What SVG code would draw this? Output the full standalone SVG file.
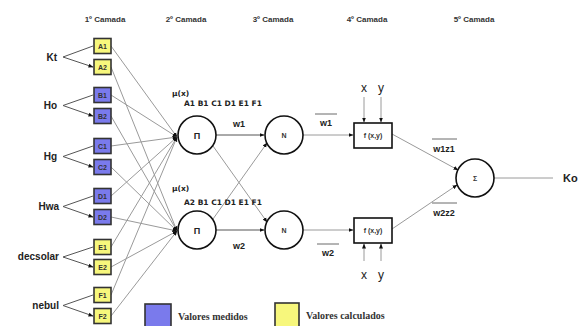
<svg xmlns="http://www.w3.org/2000/svg" width="579" height="326" viewBox="0 0 579 326">
<style>
.hdr{font-family:"Liberation Sans",Arial,sans-serif;font-size:8px;font-weight:bold;fill:#333;text-anchor:middle}
.lbl{font-family:"Liberation Sans",Arial,sans-serif;font-size:10px;font-weight:bold;fill:#222;text-anchor:end}
.bt{font-family:"Liberation Sans",Arial,sans-serif;font-size:7px;font-weight:bold;fill:#333;text-anchor:middle}
.sm{font-family:"DejaVu Sans",sans-serif;font-size:7.5px;font-weight:bold;fill:#222}
.w{font-family:"Liberation Sans",Arial,sans-serif;font-size:9px;font-weight:bold;fill:#222;text-anchor:middle}
.xy{font-family:"Liberation Sans",Arial,sans-serif;font-size:12px;fill:#222;text-anchor:middle}
.leg{font-family:"Liberation Serif","Times New Roman",serif;font-size:10px;font-weight:bold;fill:#333}
.yb{fill:#f7f77c;stroke:#333;stroke-width:1.6}
.bb{fill:#7a7aec;stroke:#333;stroke-width:1.6}
.c{fill:#fff;stroke:#111;stroke-width:1.6}
.ln{stroke:#9a9a9a;stroke-width:1;fill:none}
.dk{stroke:#555;stroke-width:1;fill:none}
.ol{stroke:#444;stroke-width:0.8}
</style>
<defs>
<marker id="ar" viewBox="0 0 10 10" refX="9" refY="5" markerWidth="5" markerHeight="5" orient="auto" markerUnits="userSpaceOnUse">
<path d="M0,1 L10,5 L0,9 Z" fill="#111"/>
</marker>
</defs>
<rect width="579" height="326" fill="#fff"/>
<g id="headers">
<text class="hdr" x="105" y="22">1º Camada</text>
<text class="hdr" x="186" y="22">2º Camada</text>
<text class="hdr" x="273" y="22">3º Camada</text>
<text class="hdr" x="367" y="22">4º Camada</text>
<text class="hdr" x="474" y="22">5º Camada</text>
</g>
<g id="connectors">
<path class="dk" d="M63,57 L93,46 M63,57 L93,67" marker-end="url(#ar)"/>
<path class="dk" d="M63,105.5 L93,95 M63,105.5 L93,116" marker-end="url(#ar)"/>
<path class="dk" d="M63,156.5 L93,146 M63,156.5 L93,167" marker-end="url(#ar)"/>
<path class="dk" d="M63,206.5 L93,196 M63,206.5 L93,217" marker-end="url(#ar)"/>
<path class="dk" d="M63,257 L93,247 M63,257 L93,267" marker-end="url(#ar)"/>
<path class="dk" d="M63,305.5 L93,295 M63,305.5 L93,316" marker-end="url(#ar)"/>
<g marker-end="url(#ar)">
<line class="ln" x1="111" y1="46" x2="177" y2="137"/>
<line class="ln" x1="111" y1="95" x2="177" y2="137"/>
<line class="ln" x1="111" y1="146" x2="177" y2="137"/>
<line class="ln" x1="111" y1="196" x2="177" y2="137"/>
<line class="ln" x1="111" y1="247" x2="177" y2="137"/>
<line class="ln" x1="111" y1="295" x2="177" y2="137"/>
<line class="ln" x1="111" y1="67" x2="177" y2="231"/>
<line class="ln" x1="111" y1="116" x2="177" y2="231"/>
<line class="ln" x1="111" y1="167" x2="177" y2="231"/>
<line class="ln" x1="111" y1="217" x2="177" y2="231"/>
<line class="ln" x1="111" y1="267" x2="177" y2="231"/>
<line class="ln" x1="111" y1="316" x2="177" y2="231"/>
<line class="dk" x1="216" y1="135" x2="264" y2="135"/>
<line class="dk" x1="216" y1="230" x2="264" y2="230"/>
<line class="ln" x1="213" y1="146" x2="267" y2="222"/>
<line class="ln" x1="213" y1="219" x2="267" y2="143"/>
<line class="ln" x1="303" y1="135" x2="353" y2="135"/>
<line class="ln" x1="303" y1="230" x2="353" y2="230"/>
<line class="ln" x1="364" y1="97" x2="364" y2="122"/>
<line class="ln" x1="381" y1="97" x2="381" y2="122"/>
<line class="ln" x1="364" y1="261" x2="364" y2="244"/>
<line class="ln" x1="381" y1="261" x2="381" y2="244"/>
<line class="ln" x1="392" y1="134" x2="458" y2="170"/>
<line class="ln" x1="392" y1="229" x2="457" y2="185"/>
</g>
<line class="ln" x1="494" y1="178" x2="553" y2="178"/>
</g>
<g id="inputs">
<text class="lbl" x="57" y="61">Kt</text>
<text class="lbl" x="57" y="109">Ho</text>
<text class="lbl" x="57" y="160">Hg</text>
<text class="lbl" x="59" y="210">Hwa</text>
<text class="lbl" x="59" y="260">decsolar</text>
<text class="lbl" x="59" y="309">nebul</text>
</g>
<g id="layer1">
<rect class="yb" x="94" y="38.5" width="17" height="15"/><text class="bt" x="102.5" y="48.5">A1</text>
<rect class="yb" x="94" y="59.5" width="17" height="15"/><text class="bt" x="102.5" y="69.5">A2</text>
<rect class="bb" x="94" y="87.5" width="17" height="15"/><text class="bt" x="102.5" y="97.5">B1</text>
<rect class="bb" x="94" y="108.5" width="17" height="15"/><text class="bt" x="102.5" y="118.5">B2</text>
<rect class="bb" x="94" y="138.5" width="17" height="15"/><text class="bt" x="102.5" y="148.5">C1</text>
<rect class="bb" x="94" y="159.5" width="17" height="15"/><text class="bt" x="102.5" y="169.5">C2</text>
<rect class="bb" x="94" y="188.5" width="17" height="15"/><text class="bt" x="102.5" y="198.5">D1</text>
<rect class="bb" x="94" y="209.5" width="17" height="15"/><text class="bt" x="102.5" y="219.5">D2</text>
<rect class="yb" x="94" y="239.5" width="17" height="15"/><text class="bt" x="102.5" y="249.5">E1</text>
<rect class="yb" x="94" y="259.5" width="17" height="15"/><text class="bt" x="102.5" y="269.5">E2</text>
<rect class="yb" x="94" y="287.5" width="17" height="15"/><text class="bt" x="102.5" y="297.5">F1</text>
<rect class="yb" x="94" y="308.5" width="17" height="15"/><text class="bt" x="102.5" y="318.5">F2</text>
</g>
<g id="pi-top">
<circle class="c" cx="197" cy="135" r="19"/>
<text class="w" x="197" y="139" font-size="10">Π</text>
<text class="sm" x="172" y="96">μ(x)</text>
<text class="sm" x="184" y="106">A1 B1 C1 D1 E1 F1</text>
</g>
<g id="pi-bottom">
<circle class="c" cx="197" cy="230" r="19"/>
<text class="w" x="197" y="234" font-size="10">Π</text>
<text class="sm" x="172" y="191">μ(x)</text>
<text class="sm" x="184" y="205">A2 B1 C1 D1 E1 F1</text>
</g>
<g id="weights">
<text class="w" x="239" y="127">w1</text>
<text class="w" x="239" y="249">w2</text>
<text class="w" x="326" y="126">w1</text><line class="ol" x1="315" y1="114" x2="337" y2="114"/>
<text class="w" x="328" y="256">w2</text><line class="ol" x1="317" y1="244" x2="339" y2="244"/>
<text class="w" x="444" y="152">w1z1</text><line class="ol" x1="432" y1="139" x2="457" y2="139"/>
<text class="w" x="444" y="216">w2z2</text><line class="ol" x1="432" y1="203" x2="457" y2="203"/>
</g>
<g id="n-top">
<circle class="c" cx="284" cy="135" r="19"/>
<text class="bt" x="284" y="137.5">N</text>
</g>
<g id="n-bottom">
<circle class="c" cx="284" cy="230" r="19"/>
<text class="bt" x="284" y="232.5">N</text>
</g>
<g id="f-top">
<rect class="c" x="354" y="123" width="38" height="25"/>
<text class="bt" x="373" y="138">f (x,y)</text>
<text class="xy" x="364" y="92">x</text>
<text class="xy" x="381" y="92">y</text>
</g>
<g id="f-bottom">
<rect class="c" x="354" y="218" width="38" height="25"/>
<text class="bt" x="373" y="233">f (x,y)</text>
<text class="xy" x="364" y="279">x</text>
<text class="xy" x="381" y="279">y</text>
</g>
<g id="sigma">
<circle class="c" cx="475" cy="178" r="19"/>
<text class="bt" x="475" y="181">Σ</text>
</g>
<g id="output">
<text x="563" y="182" font-family="Liberation Sans, Arial, sans-serif" font-size="11" font-weight="bold" fill="#222">Ko</text>
</g>
<g id="legend">
<rect class="bb" x="145" y="304" width="26" height="25"/>
<text class="leg" x="178" y="320">Valores medidos</text>
<rect class="yb" x="275" y="303" width="24" height="26"/>
<text class="leg" x="306" y="319">Valores calculados</text>
</g>
</svg>
